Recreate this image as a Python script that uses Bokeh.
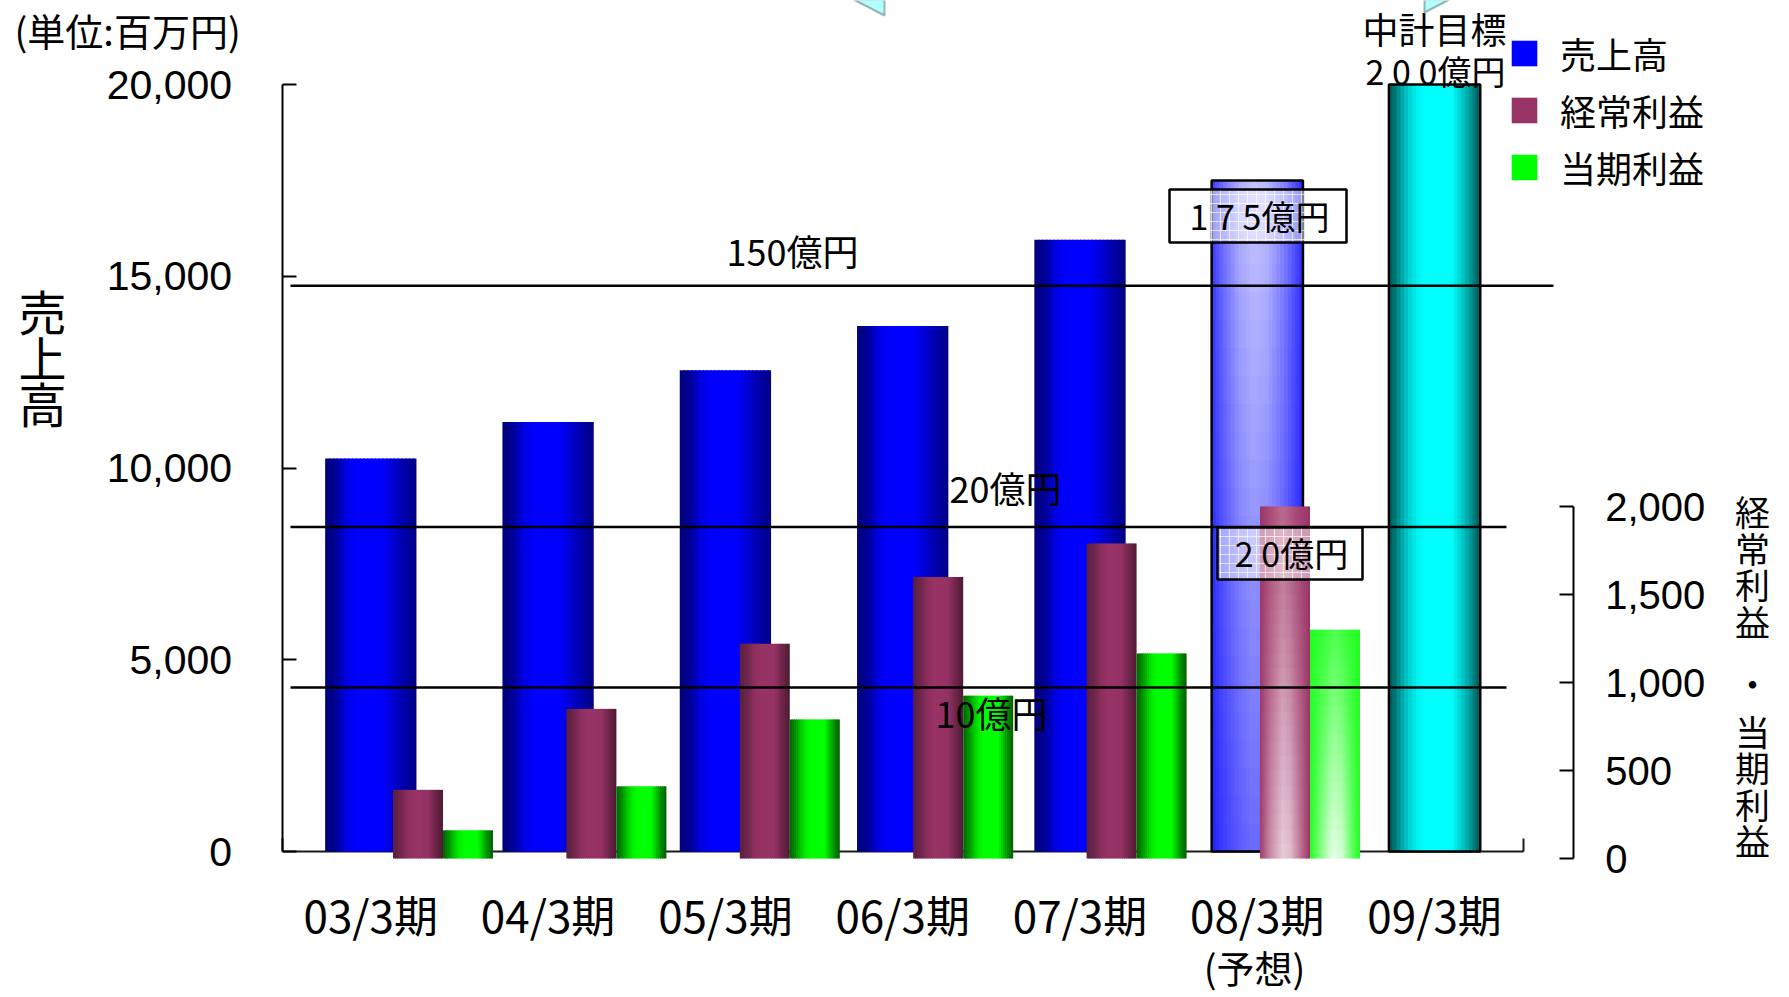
from bokeh.plotting import figure
from bokeh.models import (Range1d, LinearAxis, FixedTicker, NumeralTickFormatter, Label,
                          Legend, LegendItem, ColumnDataSource, BoxAnnotation, PolyAnnotation)
from bokeh.embed import file_html
from bokeh.resources import INLINE

# ---------------- data ----------------
categories = ["03/3期", "04/3期", "05/3期", "06/3期", "07/3期", "08/3期", "09/3期"]
sales = [10250, 11200, 12550, 13700, 15950, 17500, 20000]      # 売上高 (left axis, 百万円)
ordinary_profit = [390, 850, 1220, 1600, 1790, 2000]            # 経常利益 (right axis)
net_profit = [160, 410, 790, 925, 1165, 1300]                   # 当期利益 (right axis)
left_ticks = [0, 5000, 10000, 15000, 20000]
right_ticks = [0, 500, 1000, 1500, 2000]
series_names = ["売上高", "経常利益", "当期利益"]
sales_ref_value = 14750
sales_ref_label = "150億円"
profit_ref_values = [1883, 971]
profit_ref_labels = ["20億円", "10億円"]
unit_note = "(単位:百万円)"
left_title = "売上高"
right_title = "経常利益・当期利益"
forecast_note = "(予想)"
target_title = "中計目標"
target_note = "2 0 0億円"
forecast_sales_note = "1 7 5億円"
forecast_profit_note = "2 0億円"

# ---------------- styles ----------------
bar_kind = ["actual"] * 5 + ["forecast", "target"]
JP = "Noto Sans CJK JP"
EN = "Liberation Sans"

BLUE_ACT = [(0, '#000078'), (0.12, '#000098'), (0.24, '#0000e8'), (0.36, '#0000ff'),
            (0.62, '#0000ff'), (0.80, '#0000c0'), (1, '#000082')]
BLUE_FC_TOP = [(0, '#3a3aff'), (0.12, '#7070ff'), (0.3, '#b0b0ff'), (0.45, '#c4c4ff'),
               (0.6, '#bcbcff'), (0.8, '#8080ff'), (0.95, '#4040ff'), (1, '#2a2aff')]
BLUE_FC_BOT = [(0, '#2020ff'), (0.12, '#3a3aff'), (0.3, '#5858ff'), (0.45, '#6c6cff'),
               (0.6, '#6262ff'), (0.8, '#4848ff'), (1, '#2020ff')]
CYAN = [(0, '#005c5c'), (0.06, '#007070'), (0.12, '#009a9a'), (0.2, '#00c8c8'),
        (0.3, '#00f0f0'), (0.38, '#00ffff'), (0.68, '#00ffff'), (0.78, '#00d4d4'),
        (0.88, '#00a0a0'), (0.95, '#007070'), (1, '#005858')]
MAR_ACT = [(0, '#5a1e3e'), (0.15, '#70264c'), (0.3, '#8e305e'), (0.45, '#993366'),
           (0.7, '#953264'), (0.85, '#6e2549'), (1, '#4e1a35')]
MAR_FC_TOP = [(0, '#9a3565'), (0.2, '#a84a78'), (0.45, '#b8688a'), (0.7, '#a84a78'), (1, '#993366')]
MAR_FC_BOT = [(0, '#a03a6a'), (0.2, '#c88aa8'), (0.45, '#e6ccd9'), (0.6, '#e0c0d0'),
              (0.8, '#c07898'), (1, '#9a3363')]
GRN_ACT = [(0, '#006400'), (0.1, '#008a00'), (0.22, '#00c800'), (0.32, '#00f000'),
           (0.42, '#00ff00'), (0.7, '#00ff00'), (0.8, '#00c000'), (0.9, '#008800'), (1, '#006000')]
GRN_FC_TOP = [(0, '#20ff20'), (0.3, '#38ff38'), (0.5, '#50ff50'), (0.8, '#30ff30'), (1, '#20ff20')]
GRN_FC_BOT = [(0, '#20ff20'), (0.2, '#80ff80'), (0.45, '#eaffea'), (0.65, '#d0ffd0'),
              (0.85, '#60ff60'), (1, '#20ff20')]

# ---------------- geometry (page pixels; the frame fills the canvas) ----------------
W, H = 1789, 997
C0, XPU = 370.3, 177.3                         # first category centre / px per category
AX_R = 1572.7                                  # right value-axis position
SUB_C0, SUB_PU = 442.5, 173.4                  # profit bars' first group centre / pitch
Y0, Y20K = 851, 84
YPU = (Y0 - Y20K) / 20000.0
R0, R2K = 858, 506
RPU = (R0 - R2K) / 2000.0


def X(px):
    return (px - C0) / XPU


def Y(py):
    return (Y0 - py) / YPU


def hexrgb(h):
    return tuple(int(h[i:i + 2], 16) for i in (1, 3, 5))


def mix(a, b, t):
    return tuple(a[i] + (b[i] - a[i]) * t for i in range(3))


def prof(stops, u):
    for (p0, c0), (p1, c1) in zip(stops[:-1], stops[1:]):
        if p0 <= u <= p1:
            return mix(hexrgb(c0), hexrgb(c1), (u - p0) / (p1 - p0) if p1 > p0 else 0)
    return hexrgb(stops[-1][1])


def tohex(c):
    return '#%02x%02x%02x' % tuple(max(0, min(255, int(round(v)))) for v in c)


def add_bar(cells, xc, w, top, top_prof, bot_prof=None, nx=24, ny=1):
    step = w / nx
    for j in range(ny):
        b = top * j / ny
        t = top * (j + 1) / ny + (top / ny * 0.3 if j < ny - 1 else 0)
        fb = 1 - (j + 0.5) / ny
        for k in range(nx):
            u = (k + 0.5) / nx
            l = xc - w / 2 + k * step
            r = l + step * (1.4 if k < nx - 1 else 1.0)
            c = prof(top_prof, u)
            if bot_prof is not None:
                c = mix(c, prof(bot_prof, u), fb)
            cells["left"].append(l); cells["right"].append(r)
            cells["bottom"].append(b); cells["top"].append(t)
            cells["color"].append(tohex(c))


def new_cells():
    return {"left": [], "right": [], "bottom": [], "top": [], "color": []}


p = figure(width=W, height=H, output_backend="svg", toolbar_location=None,
           x_axis_location=None, y_axis_location=None,
           x_range=Range1d(X(0), X(W)), y_range=Range1d(Y(H), Y(0)),
           min_border_left=0, min_border_right=0, min_border_top=0, min_border_bottom=0)
p.extra_y_ranges = {"right": Range1d(-(H - R0) / RPU, R0 / RPU)}
p.extra_x_ranges = {"sub": Range1d((0 - SUB_C0) / SUB_PU, (W - SUB_C0) / SUB_PU)}
p.background_fill_color = "white"
p.border_fill_color = "white"
p.outline_line_color = None
p.grid.visible = False

n = len(categories)

# ---- category axis (drawn under the bars, on the zero line) ----
xa = LinearAxis(fixed_location=0, bounds=(-0.5001, n - 0.5 + 0.0001), level="underlay",
                ticker=FixedTicker(ticks=list(range(n)), minor_ticks=[-0.5, n - 0.5]),
                major_label_overrides={i: c for i, c in enumerate(categories)},
                axis_line_color="#1a1a1a", axis_line_width=2,
                major_tick_line_color=None, minor_tick_in=13, minor_tick_out=0,
                minor_tick_line_color="#1a1a1a", minor_tick_line_width=2,
                major_label_text_font=JP, major_label_text_font_size="44px",
                major_label_text_color="black", major_label_standoff=24)
p.add_layout(xa, "below")

# ---- sales bars ----
BW = 0.515
blue = new_cells()
for i, (v, kind) in enumerate(zip(sales, bar_kind)):
    if kind == "actual":
        add_bar(blue, i, BW, v, BLUE_ACT)
    elif kind == "forecast":
        add_bar(blue, i, BW, v, BLUE_FC_TOP, BLUE_FC_BOT, ny=24)
    else:
        add_bar(blue, i, BW, v, CYAN)
r_blue = p.quad(left="left", right="right", bottom="bottom", top="top", fill_color="color",
                line_color=None, source=ColumnDataSource(blue))
outlined = [i for i, k in enumerate(bar_kind) if k != "actual"]
p.vbar(x=outlined, top=[sales[i] for i in outlined], bottom=0, width=BW,
       fill_color=None, line_color="black", line_width=2.5)

# ---- profit bars (secondary axes) ----
PW, POFF = 50 / SUB_PU, 25 / SUB_PU
mar = new_cells()
grn = new_cells()
for i, (vo, vn) in enumerate(zip(ordinary_profit, net_profit)):
    if bar_kind[i] == "actual":
        add_bar(mar, i - POFF, PW, vo, MAR_ACT)
        add_bar(grn, i + POFF, PW, vn, GRN_ACT)
    else:
        add_bar(mar, i - POFF, PW, vo, MAR_FC_TOP, MAR_FC_BOT, ny=24)
        add_bar(grn, i + POFF, PW, vn, GRN_FC_TOP, GRN_FC_BOT, ny=24)
r_mar = p.quad(left="left", right="right", bottom="bottom", top="top", fill_color="color",
               line_color=None, source=ColumnDataSource(mar),
               x_range_name="sub", y_range_name="right")
r_grn = p.quad(left="left", right="right", bottom="bottom", top="top", fill_color="color",
               line_color=None, source=ColumnDataSource(grn),
               x_range_name="sub", y_range_name="right")

# ---- reference lines ----
p.segment(x0=[X(290)], x1=[X(1553)], y0=[sales_ref_value], y1=[sales_ref_value],
          line_color="black", line_width=2.5)
p.segment(x0=[X(290)] * 2, x1=[X(1506)] * 2, y0=profit_ref_values, y1=profit_ref_values,
          line_color="black", line_width=2.5, y_range_name="right")

# ---- value axes ----
la = LinearAxis(fixed_location=-0.5, bounds=(0, 20000), ticker=FixedTicker(ticks=left_ticks),
                formatter=NumeralTickFormatter(format="0,0"), major_tick_in=14, major_tick_out=0,
                minor_tick_line_color=None, axis_line_width=2, major_tick_line_width=2,
                major_label_text_font=EN, major_label_text_font_size="41px",
                major_label_text_color="black", major_label_standoff=50)
p.add_layout(la, "left")

ra = LinearAxis(y_range_name="right", fixed_location=X(AX_R), bounds=(0, 2000),
                ticker=FixedTicker(ticks=right_ticks),
                formatter=NumeralTickFormatter(format="0,0"), major_tick_in=14, major_tick_out=0,
                minor_tick_line_color=None, axis_line_width=2, major_tick_line_width=2,
                major_label_text_font=EN, major_label_text_font_size="40px",
                major_label_text_color="black", major_label_standoff=32)
p.add_layout(ra, "right")

# ---- callout fragments at the top edge ----
p.add_layout(PolyAnnotation(xs=[X(853), X(884), X(884)], ys=[Y(-1), Y(15), Y(-1)],
                            fill_color="#b0ffff", fill_alpha=1, line_color="black", line_width=2))
p.add_layout(PolyAnnotation(xs=[X(1424), X(1424), X(1449)], ys=[Y(-1), Y(12), Y(-1)],
                            fill_color="#b0ffff", fill_alpha=1, line_color="black", line_width=2))

# ---- boxed notes ----
for (l, t, r, b) in [(1169, 189, 1346, 242), (1217, 527, 1362, 579)]:
    p.add_layout(BoxAnnotation(left=X(l), right=X(r), top=Y(t), bottom=Y(b),
                               fill_color="white", fill_alpha=0.5, line_color="black",
                               line_width=2.5, line_alpha=1, hatch_pattern="+",
                               hatch_color="white", hatch_alpha=0.7, hatch_scale=9,
                               hatch_weight=1))


def put(text, px, py, size, font=JP, align="center"):
    p.add_layout(Label(x=X(px), y=Y(py), text=text, text_align=align, text_baseline="middle",
                       text_font=font, text_font_size=f"{size}px", text_color="black"))


put(unit_note, 14, 29, 38, align="left")
for ch, cy in zip(left_title, [309, 355, 401]):
    put(ch, 42, cy, 48)
right_title_y = [510, 547, 583, 620, 682, 730, 766, 803, 839]
for ch, cy in zip(right_title, right_title_y):
    put(ch, 1752, cy, 35)
put(sales_ref_label, 792, 249, 36)
put(profit_ref_labels[0], 1005, 486, 36)
put(profit_ref_labels[1], 991, 711, 36)
put(forecast_sales_note, 1259, 215, 34)
put(forecast_profit_note, 1291, 552, 34)
put(target_title, 1434, 27, 36)
put(target_note, 1435, 70, 34)
put(forecast_note, 1254, 966, 38)

# ---- legend ----
legend = Legend(items=[LegendItem(label=series_names[0], renderers=[r_blue], index=12),
                       LegendItem(label=series_names[1], renderers=[r_mar], index=12),
                       LegendItem(label=series_names[2], renderers=[r_grn], index=12)],
                location=(1508, H - 193), orientation="vertical",
                label_text_font=JP, label_text_font_size="36px", label_text_color="black",
                glyph_width=32, glyph_height=32, label_standoff=20, spacing=5,
                padding=0, margin=0, border_line_color=None, background_fill_alpha=0)
p.add_layout(legend)

open("out.html", "w").write(file_html(p, INLINE))
